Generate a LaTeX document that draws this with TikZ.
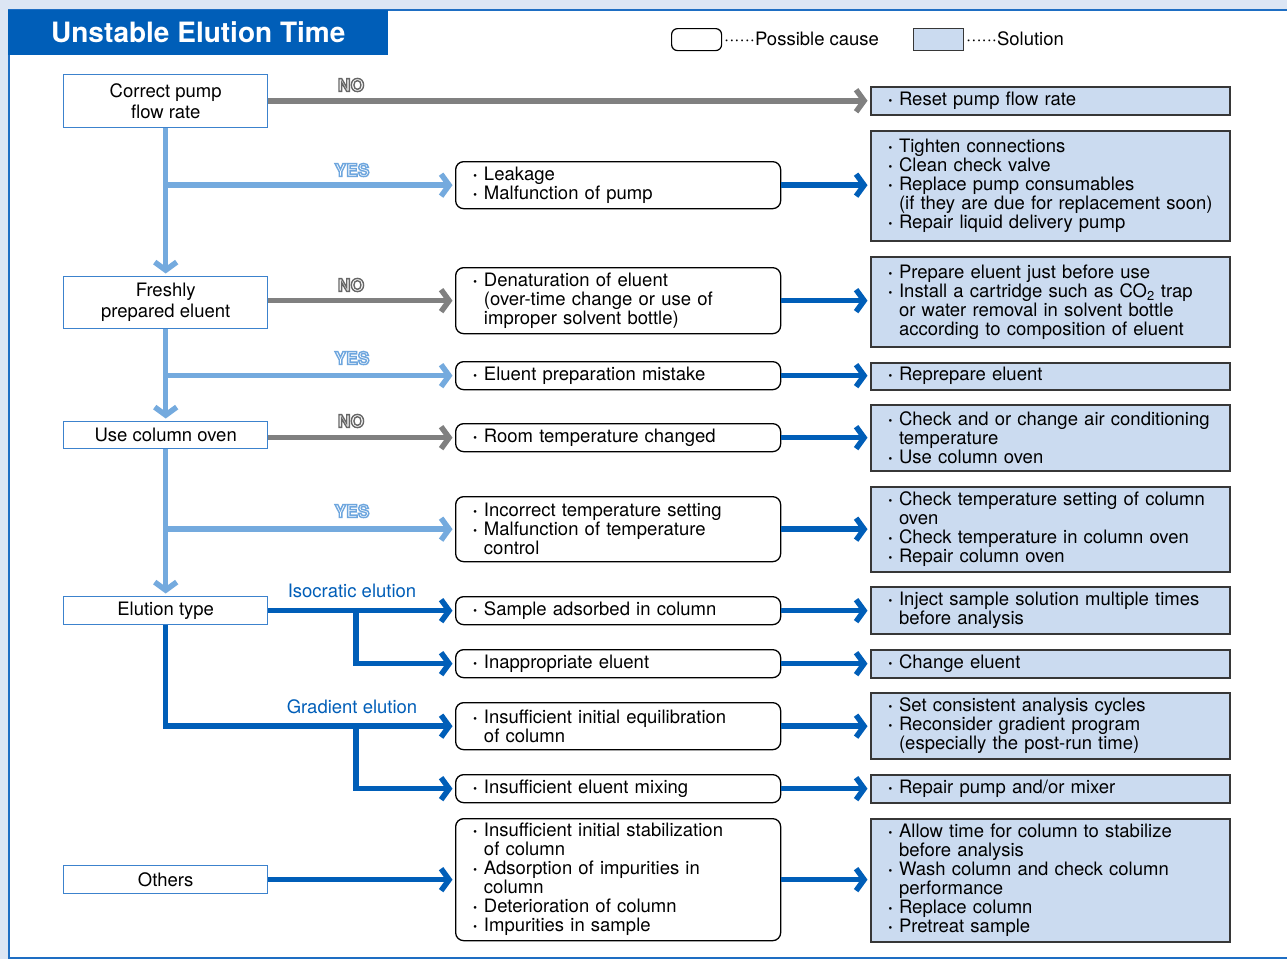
\documentclass[tikz,border=0pt]{standalone}
\usepackage{fontspec}
\setmainfont{TeX Gyre Heros}
\usetikzlibrary{arrows.meta}
\definecolor{darkblue}{RGB}{0,94,184}
\definecolor{yesblue}{RGB}{116,170,222}
\definecolor{nogray}{RGB}{128,128,128}
\definecolor{solfill}{RGB}{203,219,240}
\definecolor{bgblue}{RGB}{220,230,244}
\definecolor{panelblue}{RGB}{30,110,195}
\definecolor{decblue}{RGB}{60,130,205}
\definecolor{soldraw}{RGB}{55,55,55}
\newcommand\txtfont{\fontsize{18.5}{19}\selectfont}
\newcommand\decfont{\fontsize{18.5}{21}\selectfont}
\newcommand\labfont{\fontsize{17.5}{17.5}\selectfont\bfseries}
\newcommand\ttlfont{\fontsize{28}{30}\selectfont\bfseries}
\newcommand\blk[1]{\vbox{\baselineskip=19pt\lineskiplimit=-20pt\halign{##\hfil\cr#1\crcr}}}
\newcommand\ind{\hphantom{·\ }}
\newcommand\bl{{\bfseries·}\ }
% outlined text: white fill, coloured stroke (one text instance)
\newcommand\outl[2]{{\color{white}\special{pdf:literal direct 2 Tr 1.4 w #1 RG}#2\special{pdf:literal direct 0 Tr}}}
\tikzset{
 dec/.style={draw=decblue, line width=1.4pt, fill=white, anchor=north west, minimum width=204pt, inner sep=0pt, align=center, font=\decfont},
 cause/.style={draw=black, line width=1.3pt, rounded corners=8pt, fill=white, anchor=north west, minimum width=325pt, text width=291pt, inner xsep=17pt, inner ysep=0pt, align=left, font=\txtfont},
 sol/.style={draw=soldraw, line width=1.5pt, fill=solfill, anchor=north west, minimum width=359pt, text width=325pt, inner xsep=17pt, inner ysep=0pt, align=left, font=\txtfont},
 arr/.style={line width=5.5pt, -{Straight Barb[length=8pt,width=22pt]}, shorten >=2.5pt},
 noarr/.style={arr, draw=nogray},
 yesarr/.style={arr, draw=yesblue},
 bluearr/.style={arr, draw=darkblue},
 lab/.style={font=\labfont, inner sep=0pt},
 branchlab/.style={font=\txtfont, text=darkblue, inner sep=0pt}
}
\begin{document}
\begin{tikzpicture}[x=1pt,y=-1pt]
\useasboundingbox (0,0) rectangle (1287,959);
\fill[bgblue] (0,0) rectangle (1287,959);
\draw[panelblue, line width=2pt, fill=white] (9,10) rectangle (1300,957.5);
\node[fill=darkblue, anchor=north west, minimum width=380pt, minimum height=45pt, inner sep=0pt, font=\ttlfont, text=white] (title) at (8,10) {Unstable Elution Time};
% legend
\node[draw=black, line width=1.2pt, rounded corners=6pt, fill=white, anchor=north west, minimum width=50pt, minimum height=22pt, inner sep=0pt] (lg1) at (671,28) {};
\node[anchor=west, inner sep=0pt, font=\txtfont] (lg1t) at (724,39) {······Possible cause};
\node[draw=soldraw, line width=1.2pt, fill=solfill, anchor=north west, minimum width=50pt, minimum height=22pt, inner sep=0pt] (lg2) at (913,28) {};
\node[anchor=west, inner sep=0pt, font=\txtfont] (lg2t) at (966,39) {······Solution};
% decisions
\node[dec, minimum height=53pt] (d1) at (63,74) {Correct pump\\flow rate};
\node[dec, minimum height=52pt] (d2) at (63,276) {Freshly\\prepared eluent};
\node[dec, minimum height=27pt] (d3) at (63,421) {Use column oven};
\node[dec, minimum height=28pt] (d4) at (63,596) {Elution type};
\node[dec, minimum height=28pt] (d5) at (63,865) {Others};
% causes
\node[cause, minimum height=47pt] (c1) at (455,161) {\blk{\bl Leakage\cr \bl Malfunction of pump}};
\node[cause, minimum height=66pt] (c2) at (455,267) {\blk{\bl Denaturation of eluent\cr \ind(over-time change or use of\cr \ind improper solvent bottle)}};
\node[cause, minimum height=28pt] (c3) at (455,361) {\blk{\bl Eluent preparation mistake}};
\node[cause, minimum height=28pt] (c4) at (455,423) {\blk{\bl Room temperature changed}};
\node[cause, minimum height=65pt] (c5) at (455,496) {\blk{\bl Incorrect temperature setting\cr \bl Malfunction of temperature\cr \ind control}};
\node[cause, minimum height=28pt] (c6) at (455,596) {\blk{\bl Sample adsorbed in column}};
\node[cause, minimum height=28pt] (c7) at (455,649) {\blk{\bl Inappropriate eluent}};
\node[cause, minimum height=47pt] (c8) at (455,702) {\blk{\bl Insufficient initial equilibration\cr \ind of column}};
\node[cause, minimum height=28pt] (c9) at (455,774) {\blk{\bl Insufficient eluent mixing}};
\node[cause, minimum height=122pt] (c10) at (455,818) {\blk{\bl Insufficient initial stabilization\cr \ind of column\cr \bl Adsorption of impurities in\cr \ind column\cr \bl Deterioration of column\cr \bl Impurities in sample}};
% solutions
\node[sol, minimum height=28pt] (s1) at (870,86) {\blk{\bl Reset pump flow rate}};
\node[sol, minimum height=110pt] (s2) at (870,130) {\blk{\bl Tighten connections\cr \bl Clean check valve\cr \bl Replace pump consumables\cr \ind(if they are due for replacement soon)\cr \bl Repair liquid delivery pump}};
\node[sol, minimum height=90pt] (s3) at (870,256) {\blk{\bl Prepare eluent just before use\cr \bl Install a cartridge such as CO\textsubscript{2} trap\cr \ind or water removal in solvent bottle\cr \ind according to composition of eluent}};
\node[sol, minimum height=27pt] (s4) at (870,362) {\blk{\bl Reprepare eluent}};
\node[sol, minimum height=66pt] (s5) at (870,404) {\blk{\bl Check and or change air conditioning\cr \ind temperature\cr \bl Use column oven}};
\node[sol, minimum height=85pt] (s6) at (870,486) {\blk{\bl Check temperature setting of column\cr \ind oven\cr \bl Check temperature in column oven\cr \bl Repair column oven}};
\node[sol, minimum height=47pt] (s7) at (870,586) {\blk{\bl Inject sample solution multiple times\cr \ind before analysis}};
\node[sol, minimum height=28pt] (s8) at (870,649) {\blk{\bl Change eluent}};
\node[sol, minimum height=66pt] (s9) at (870,692) {\blk{\bl Set consistent analysis cycles\cr \bl Reconsider gradient program\cr \ind(especially the post-run time)}};
\node[sol, minimum height=28pt] (s10) at (870,774) {\blk{\bl Repair pump and/or mixer}};
\node[sol, minimum height=123pt] (s11) at (870,818) {\blk{\bl Allow time for column to stabilize\cr \ind before analysis\cr \bl Wash column and check column\cr \ind performance\cr \bl Replace column\cr \bl Pretreat sample}};
% NO connectors
\draw[noarr] (d1.east |- s1.west) -- (s1.west);
\draw[noarr] (d2.east |- c2.west) -- (c2.west);
\draw[noarr] (d3.east |- c4.west) -- (c4.west);
% YES connectors
\draw[yesarr] (d1.south) -- (d2.north);
\draw[yesarr] (d1.south |- c1.west) -- (c1.west);
\draw[yesarr] (d2.south) -- (d3.north);
\draw[yesarr] (d2.south |- c3.west) -- (c3.west);
\draw[yesarr] (d3.south) -- (d4.north);
\draw[yesarr] (d3.south |- c5.west) -- (c5.west);
% elution type
\coordinate (b1) at (356,610);
\coordinate (b2) at (356,725.5);
\draw[bluearr] (d4.east |- c6.west) -- (c6.west);
\draw[bluearr] (b1) |- (c7.west);
\draw[bluearr] (d4.south) |- (c8.west);
\draw[bluearr] (b2) |- (c9.west);
\draw[bluearr] (d5.east |- c10.west) -- (c10.west);
% cause -> solution
\draw[bluearr] (c1.east) -- (c1.east -| s2.west);
\draw[bluearr] (c2.east) -- (c2.east -| s3.west);
\draw[bluearr] (c3.east) -- (c3.east -| s4.west);
\draw[bluearr] (c4.east) -- (c4.east -| s5.west);
\draw[bluearr] (c5.east) -- (c5.east -| s6.west);
\draw[bluearr] (c6.east) -- (c6.east -| s7.west);
\draw[bluearr] (c7.east) -- (c7.east -| s8.west);
\draw[bluearr] (c8.east) -- (c8.east -| s9.west);
\draw[bluearr] (c9.east) -- (c9.east -| s10.west);
\draw[bluearr] (c10.east) -- (c10.east -| s11.west);
% labels
\node[branchlab] (iso) at (352,591) {Isocratic elution};
\node[branchlab] (grad) at (352,707) {Gradient elution};
\node[lab] (no1) at (351,85) {\outl{0.40 0.40 0.40}{NO}};
\node[lab] (no2) at (351,285) {\outl{0.40 0.40 0.40}{NO}};
\node[lab] (no3) at (351,421) {\outl{0.40 0.40 0.40}{NO}};
\node[lab] (yes1) at (352,170) {\outl{0.43 0.65 0.87}{YES}};
\node[lab] (yes2) at (352,358) {\outl{0.43 0.65 0.87}{YES}};
\node[lab] (yes3) at (352,511) {\outl{0.43 0.65 0.87}{YES}};
\end{tikzpicture}
\end{document}
